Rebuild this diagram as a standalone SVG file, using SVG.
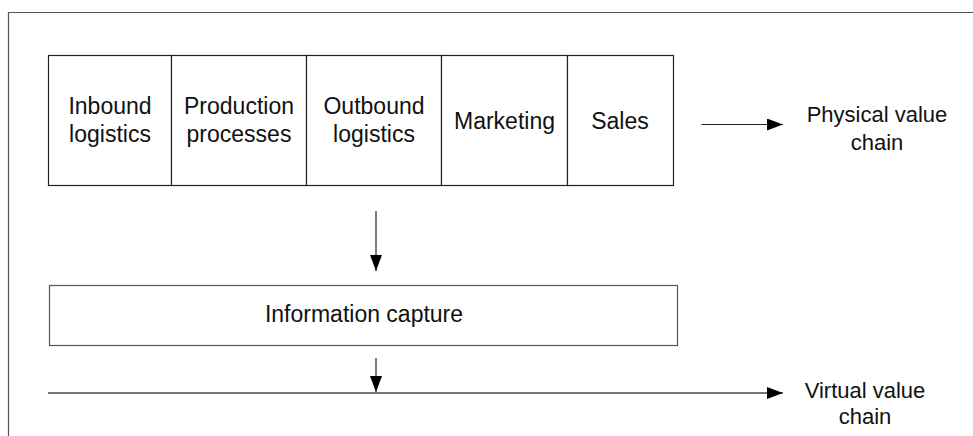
<svg xmlns="http://www.w3.org/2000/svg" width="973" height="436" viewBox="0 0 973 436">
  <style>
    .box { fill: #fff; stroke: #222; stroke-width: 1.2; }
    .divider { stroke: #555; stroke-width: 1.2; }
    .lbl { font-family: "Liberation Sans", Arial, sans-serif; font-size: 23px; fill: #111; text-anchor: middle; }
    .side { font-family: "Liberation Sans", Arial, sans-serif; font-size: 22px; fill: #111; text-anchor: middle; }
    .arrow { stroke: #222; stroke-width: 1.2; fill: none; }
    .chain { stroke: #777; stroke-width: 2; fill: none; }
  </style>
  <defs>
    <marker id="head" viewBox="0 0 16 12" refX="16" refY="6" markerWidth="16" markerHeight="12" markerUnits="userSpaceOnUse" orient="auto">
      <path d="M0 0 L16 6 L0 12 Z" fill="#000"/>
    </marker>
  </defs>

  <rect width="973" height="436" fill="#fff"/>

  <!-- outer frame (open to the right and bottom) -->
  <path d="M8.5 436 V12.5 H973" fill="none" stroke="#555" stroke-width="1.2"/>

  <!-- physical value chain activities -->
  <g id="inbound-logistics">
    <rect class="box" x="48.5" y="55.5" width="123" height="130"/>
    <text class="lbl" x="110" y="114">Inbound</text>
    <text class="lbl" x="110" y="142">logistics</text>
  </g>
  <g id="production-processes">
    <rect class="box" x="171.5" y="55.5" width="135" height="130"/>
    <text class="lbl" x="239" y="114">Production</text>
    <text class="lbl" x="239" y="142">processes</text>
  </g>
  <g id="outbound-logistics">
    <rect class="box" x="306.5" y="55.5" width="135" height="130"/>
    <text class="lbl" x="374" y="114">Outbound</text>
    <text class="lbl" x="374" y="142">logistics</text>
  </g>
  <g id="marketing">
    <rect class="box" x="441.5" y="55.5" width="126" height="130"/>
    <text class="lbl" x="504.5" y="129">Marketing</text>
  </g>
  <g id="sales">
    <rect class="box" x="567.5" y="55.5" width="106" height="130"/>
    <text class="lbl" x="620" y="129">Sales</text>
  </g>

  <!-- information capture layer -->
  <g id="information-capture">
    <rect class="box" x="49.5" y="285.5" width="628" height="60" style="stroke:#555"/>
    <text class="lbl" x="364" y="322">Information capture</text>
  </g>

  <!-- chain labels -->
  <g id="physical-value-chain">
    <text class="side" x="877" y="122">Physical value</text>
    <text class="side" x="877" y="150">chain</text>
  </g>
  <g id="virtual-value-chain">
    <text class="side" x="865" y="398">Virtual value</text>
    <text class="side" x="865" y="424">chain</text>
  </g>

  <!-- connectors -->
  <g id="connectors">
    <line class="arrow" x1="701.5" y1="124.5" x2="783" y2="124.5" marker-end="url(#head)"/>
    <line class="arrow" x1="376" y1="211" x2="376" y2="271" marker-end="url(#head)"/>
    <line class="arrow" x1="376" y1="358" x2="376" y2="392" marker-end="url(#head)"/>
    <line class="chain" x1="48" y1="393" x2="783" y2="393" marker-end="url(#head)"/>
  </g>
</svg>
